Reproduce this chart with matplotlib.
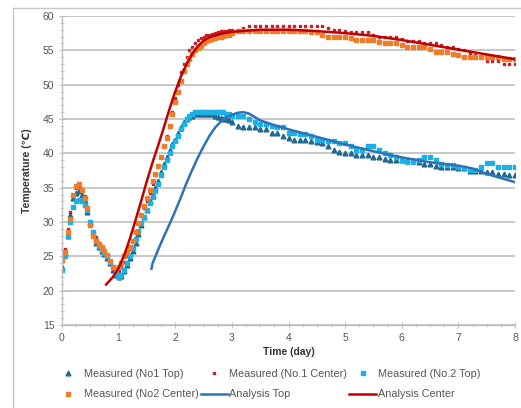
import numpy as np
import matplotlib
matplotlib.use("Agg")
import matplotlib.pyplot as plt
from matplotlib.lines import Line2D
from matplotlib.ticker import MultipleLocator

plt.rcParams['font.family'] = ['Liberation Sans', 'DejaVu Sans']

# sampling times of the measured data (day): every 0.05 up to day 3, then 0.1
time = np.concatenate([np.round(np.arange(61) * 0.05, 2),
                       np.round(3.0 + np.arange(1, 51) * 0.1, 1)])

no1_top = [23.5, 25.5, 28.0, 31.0, 33.5, 34.2, 34.5, 34.0, 33.0, 31.5,
           30.0, 28.5, 27.0, 26.3, 25.8, 25.3, 24.8, 24.0, 23.0, 22.3,
           22.0, 22.2, 22.8, 23.7, 24.8, 25.8, 27.0, 28.3, 29.5, 30.7,
           31.8, 33.0, 34.0, 35.0, 36.0, 37.3, 38.5, 39.5, 40.5, 41.3,
           42.0, 43.0, 43.8, 44.5, 45.0, 45.3, 45.5, 45.7, 45.8, 45.8,
           45.8, 45.8, 45.8, 45.8, 45.5, 45.3, 45.2, 45.0, 45.0, 44.8,
           44.5,
           44.0, 43.8, 43.8, 43.8, 43.5, 43.5, 43.0, 43.0, 42.5,
           42.2, 42.0, 42.0, 42.0, 41.8, 41.7, 41.5, 41.0, 40.5, 40.2,
           40.0, 40.0, 39.8, 39.8, 39.8, 39.5, 39.5, 39.2, 39.0, 39.0,
           39.0, 39.0, 39.0, 38.8, 38.5, 38.5, 38.2, 38.0, 38.0, 38.0,
           37.8, 37.8, 37.5, 37.5, 37.5, 37.3, 37.3, 37.0, 37.0, 36.8,
           36.8]

no1_center = [25.5, 26.0, 29.0, 31.5, 34.0, 35.0, 35.3, 34.8, 33.8, 32.0,
              30.0, 28.5, 27.8, 27.0, 26.5, 25.8, 25.0, 24.0, 23.0, 22.8,
              22.8, 23.5, 24.2, 25.0, 26.0, 27.2, 28.5, 29.8, 31.0, 32.0,
              33.0, 34.2, 35.5, 36.8, 38.0, 39.5, 41.0, 42.5, 44.0, 46.0,
              48.0, 50.0, 51.8, 53.0, 54.0, 55.0, 55.5, 56.0, 56.5, 56.8,
              57.0, 57.2, 57.3, 57.4, 57.5, 57.6, 57.8, 57.8, 57.8, 58.0,
              58.0,
              58.0, 58.2, 58.5, 58.5, 58.5, 58.5, 58.5, 58.5, 58.5,
              58.5, 58.5, 58.5, 58.5, 58.5, 58.5, 58.5, 58.3, 58.0, 58.0,
              57.8, 57.6, 57.6, 57.6, 57.6, 57.3, 57.0, 57.0, 57.0, 57.0,
              56.6, 56.3, 56.3, 56.3, 56.0, 56.0, 56.0, 55.8, 55.5, 55.5,
              55.2, 55.0, 54.6, 54.3, 54.0, 53.5, 53.5, 53.5, 53.0, 53.0,
              53.0]

no2_top = [23.0, 25.0, 28.0, 30.0, 32.2, 33.0, 33.2, 33.0, 32.5, 31.8,
           30.0, 28.5, 27.2, 26.5, 26.0, 25.5, 25.0, 24.2, 23.5, 22.5,
           22.0, 22.3, 23.0, 24.0, 25.0, 26.2, 27.5, 28.7, 29.8, 30.8,
           31.7, 32.7, 33.7, 34.5, 35.5, 36.8, 38.0, 39.1, 40.0, 41.0,
           41.8, 42.5, 43.5, 44.3, 45.0, 45.5, 45.8, 46.0, 46.0, 46.0,
           46.0, 46.0, 46.0, 46.0, 46.0, 46.0, 46.0, 46.0, 45.8, 45.8,
           45.5,
           45.5, 45.5, 45.0, 44.5, 44.2, 44.2, 44.0, 43.8, 43.8,
           43.0, 43.0, 42.8, 42.8, 42.5, 42.0, 42.0, 41.8, 41.8, 41.5,
           41.5, 41.0, 40.5, 40.5, 41.0, 41.0, 40.5, 40.0, 39.8, 39.5,
           39.0, 38.8, 38.8, 39.0, 39.5, 39.5, 39.0, 38.5, 38.3, 38.3,
           38.0, 37.8, 37.6, 37.6, 38.0, 38.6, 38.6, 38.0, 38.0, 38.0,
           38.0]

no2_center = [24.5, 25.7, 28.5, 30.5, 34.0, 35.3, 35.5, 34.6, 33.5, 32.0,
              29.5, 28.0, 27.3, 26.8, 26.3, 25.8, 25.2, 24.3, 23.5, 23.2,
              23.5, 24.0, 25.0, 25.6, 26.3, 27.2, 28.5, 29.8, 31.0, 32.3,
              33.5, 34.7, 36.0, 37.0, 38.2, 39.5, 41.0, 42.3, 44.0, 45.8,
              47.5, 49.0, 50.5, 52.0, 53.0, 53.8, 54.5, 55.0, 55.3, 55.7,
              56.0, 56.3, 56.5, 56.7, 56.8, 57.0, 57.0, 57.1, 57.2, 57.3,
              57.5,
              57.8, 57.8, 57.8, 57.8, 57.8, 57.8, 57.8, 57.8, 57.8,
              57.8, 57.8, 57.8, 57.8, 57.6, 57.6, 57.3, 57.0, 57.0, 57.0,
              57.0, 56.8, 56.5, 56.5, 56.5, 56.5, 56.2, 56.0, 56.0, 56.0,
              55.8, 55.5, 55.5, 55.5, 55.5, 55.2, 54.8, 54.8, 54.8, 54.5,
              54.3, 54.1, 54.1, 54.1, 54.1, 54.1, 54.1, 54.0, 53.8, 53.8,
              53.8]

ana_top_t = [1.58, 1.6, 1.7, 1.8, 1.9, 2.0, 2.1, 2.2, 2.3, 2.4, 2.5, 2.6,
             2.7, 2.8, 2.9, 3.0, 3.1, 3.2, 3.3, 3.4, 3.5, 3.75, 4.0, 4.5,
             5.0, 5.5, 6.0, 6.5, 7.0, 7.25, 7.5, 7.75, 8.0]
ana_top = [23.2, 24.0, 26.0, 27.9, 29.7, 31.6, 33.6, 35.7, 37.6, 39.4, 41.0,
           42.5, 43.7, 44.6, 45.2, 45.6, 45.9, 46.0, 45.8, 45.3, 44.8, 44.1,
           43.5, 42.4, 41.3, 40.3, 39.4, 38.7, 38.2, 37.8, 37.0, 36.4, 35.8]

ana_center_t = [0.78, 0.9, 1.0, 1.1, 1.2, 1.3, 1.4, 1.5, 1.6, 1.7, 1.8, 1.9,
                2.0, 2.1, 2.2, 2.3, 2.4, 2.5, 2.6, 2.8, 3.0, 3.5, 4.0, 4.5,
                5.0, 5.5, 6.0, 6.5, 7.0, 7.5, 8.0]
ana_center = [20.9, 22.0, 23.3, 25.2, 27.6, 30.3, 33.1, 36.0, 38.7, 41.2,
              43.8, 46.5, 49.0, 51.2, 53.0, 54.5, 55.6, 56.4, 56.9, 57.4,
              57.7, 58.0, 58.0, 57.8, 57.5, 57.1, 56.5, 55.8, 55.1, 54.4,
              53.7]

fig = plt.figure(figsize=(5.21, 4.08), dpi=100)
ax = fig.add_axes([0.119, 0.2034, 0.8695, 0.7574])

h1, = ax.plot(time, no1_top, ls='none', marker='^', ms=3.4, color='#22688f',
              label='Measured (No1 Top)')
h2, = ax.plot(time, no1_center, ls='none', marker='s', ms=2.0, color='#c8202a',
              label='Measured (No.1 Center)')
h3, = ax.plot(time, no2_top, ls='none', marker='s', ms=3.0, color='#1cb0e6',
              label='Measured (No.2 Top)')
h4, = ax.plot(time, no2_center, ls='none', marker='s', ms=2.8, color='#ee7d2b',
              label='Measured (No2 Center)')
h5, = ax.plot(ana_top_t, ana_top, color='#2e72b8', lw=1.8, label='Analysis Top')
h6, = ax.plot(ana_center_t, ana_center, color='#c00000', lw=1.8,
              label='Analysis Center')

ax.set_xlim(0, 8)
ax.set_ylim(15, 60)
ax.xaxis.set_major_locator(MultipleLocator(1))
ax.xaxis.set_minor_locator(MultipleLocator(0.25))
ax.yaxis.set_major_locator(MultipleLocator(5))
ax.yaxis.set_minor_locator(MultipleLocator(1))
ax.grid(axis='y', color='#c4c4c4', lw=1.3)
ax.set_axisbelow(True)
for s in ['top', 'right']:
    ax.spines[s].set_visible(False)
for s in ['left', 'bottom']:
    ax.spines[s].set_color('#bfbfbf')
    ax.spines[s].set_linewidth(1.0)
ax.tick_params(which='both', colors='#bfbfbf', labelcolor='#555555',
               labelsize=7.5, direction='inout')
ax.tick_params(which='major', length=4)
ax.tick_params(which='minor', length=2.5)

ax.set_xlabel('Time (day)', fontsize=7.5, fontweight='bold', color='#333333',
              labelpad=3)
ax.set_ylabel('Temperature (\u2103)', fontsize=7.5, fontweight='bold',
              color='#333333', labelpad=8)

fig.legend([h1, h4, h2, h5, h3, h6],
           [h.get_label() for h in [h1, h4, h2, h5, h3, h6]],
           ncol=3, loc='upper left', bbox_to_anchor=(0.095, 0.11),
           frameon=False, fontsize=7.8, handlelength=2.5, handletextpad=0.15,
           columnspacing=0.2, labelspacing=1.0, borderpad=0,
           labelcolor='#555555')

# chart area border
fig.add_artist(Line2D([13 / 521, 13 / 521], [0, 1 - 8 / 408], color='#c8c8c8',
                      lw=1.0, transform=fig.transFigure))
fig.add_artist(Line2D([13 / 521, 1], [1 - 8 / 408, 1 - 8 / 408],
                      color='#c8c8c8', lw=1.0, transform=fig.transFigure))

fig.savefig('out.png', dpi=100)
